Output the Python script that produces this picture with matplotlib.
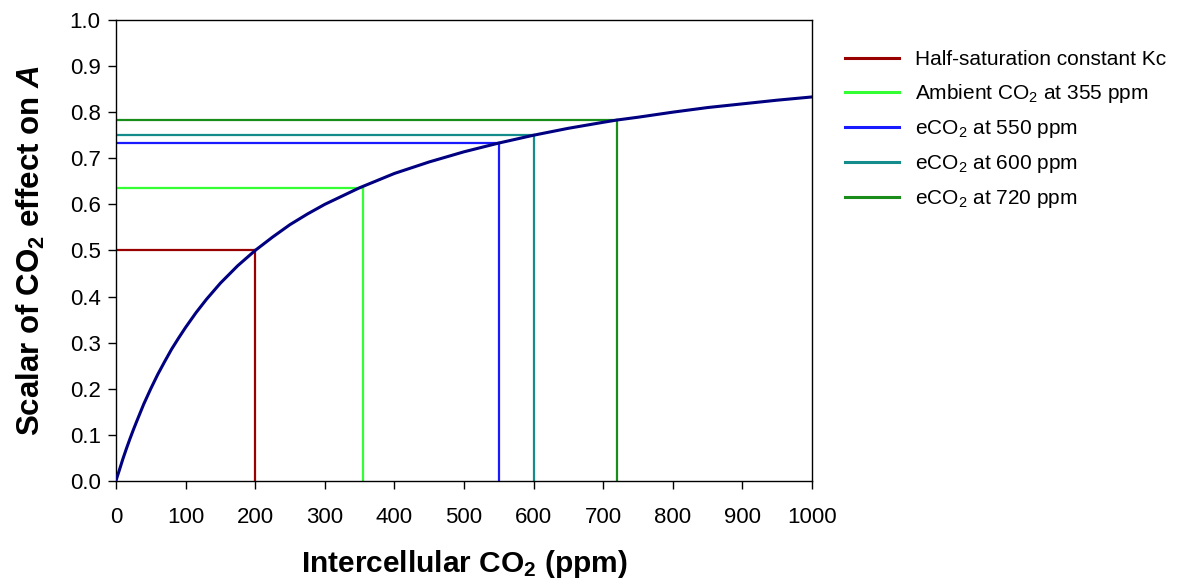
import matplotlib
matplotlib.use("Agg")
import matplotlib.pyplot as plt

plt.rcParams['font.family'] = ['Liberation Sans', 'DejaVu Sans']
plt.rcParams['mathtext.fontset'] = 'custom'
plt.rcParams['mathtext.rm'] = 'Liberation Sans'
plt.rcParams['mathtext.it'] = 'Liberation Sans:italic:bold'
plt.rcParams['mathtext.bf'] = 'Liberation Sans:bold'
plt.rcParams['mathtext.default'] = 'regular'

# Curve
ci_ppm = [0, 2, 5, 10, 15, 20, 25, 30, 40, 50, 60, 70, 80, 90, 100, 115, 130, 150, 175, 200,
          225, 250, 275, 300, 350, 400, 450, 500, 550, 600, 650, 700, 720, 750, 800,
          850, 900, 950, 1000]
scalar = [0.0, 0.010, 0.024, 0.048, 0.070, 0.091, 0.111, 0.130, 0.167, 0.200, 0.231,
          0.259, 0.286, 0.310, 0.333, 0.365, 0.394, 0.429, 0.467, 0.500, 0.529,
          0.556, 0.579, 0.600, 0.636, 0.667, 0.692, 0.714, 0.733, 0.750, 0.765,
          0.778, 0.783, 0.789, 0.800, 0.810, 0.818, 0.826, 0.833]

# Reference levels
ref_labels = ["Half-saturation constant Kc", "Ambient CO$_2$ at 355 ppm",
              "eCO$_2$ at 550 ppm", "eCO$_2$ at 600 ppm", "eCO$_2$ at 720 ppm"]
ref_x = [200, 355, 550, 600, 720]
ref_y = [0.500, 0.636, 0.733, 0.750, 0.783]
ref_colors = ["#990000", "#33FF33", "#1A1AFF", "#158C8C", "#1A8C1A"]

fig = plt.figure(figsize=(11.99, 5.87), dpi=100)
ax = fig.add_axes([0.0967, 0.1806, 0.5805, 0.7854])

handles = []
for lab, x, y, c in zip(ref_labels, ref_x, ref_y, ref_colors):
    h, = ax.plot([0, x], [y, y], color=c, lw=1.6, label=lab)
    ax.plot([x, x], [0, y], color=c, lw=1.6)
    handles.append(h)

ax.plot(ci_ppm, scalar, color="#000080", lw=2.2, zorder=5)

ax.set_xlim(0, 1000)
ax.set_ylim(0, 1.0)
ax.set_xticks(range(0, 1001, 100))
ax.set_yticks([i / 10 for i in range(11)])
ax.set_yticklabels([f"{i/10:.1f}" for i in range(11)])
ax.tick_params(direction='out', length=6, width=1, labelsize=16)
ax.tick_params(axis='x', pad=13)
ax.tick_params(axis='y', pad=5)
for s in ax.spines.values():
    s.set_linewidth(1.0)

ax.set_xlabel("Intercellular CO$_2$ (ppm)", fontsize=21.5, fontweight='bold', labelpad=14)
ax.set_ylabel("Scalar of CO$_2$ effect on $\\mathit{A}$", fontsize=22.5, fontweight='bold', labelpad=16)

leg = ax.legend(handles=handles, loc='upper left', bbox_to_anchor=(1.02, 0.975),
                frameon=False, fontsize=15, handlelength=2.6, labelspacing=0.62,
                handletextpad=0.8)
for l in leg.get_lines():
    l.set_linewidth(2.2)

fig.savefig("out.png", dpi=100)
